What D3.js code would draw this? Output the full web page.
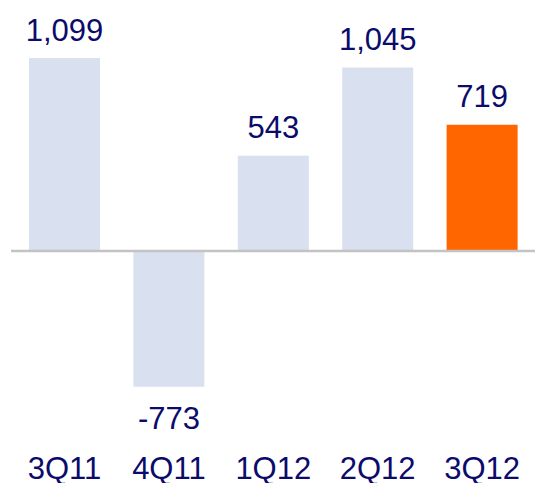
<!DOCTYPE html>
<html>
<head>
<meta charset="utf-8">
<script src="https://cdn.jsdelivr.net/npm/d3@7"></script>
<style>
  body { margin: 0; background: #fff; }
  text { font-family: "Liberation Sans", Arial, sans-serif; fill: #0b0b6b; }
</style>
</head>
<body>
<svg id="chart" width="535" height="483"></svg>
<script>
// quarterly values
var quarters = ["3Q11", "4Q11", "1Q12", "2Q12", "3Q12"];
var values = [1099, -773, 543, 1045, 719];
var highlight = ["3Q12"];

var svg = d3.select("#chart");
var width = 535;

var data = quarters.map(function(q, i) { return { q: q, v: values[i] }; });

var x = d3.scaleBand()
    .domain(quarters)
    .range([12.3, 534.3])
    .paddingInner(0.32)
    .paddingOuter(0.16);

var y = d3.scaleLinear()
    .domain([-1000, 1200])
    .range([426.6, 40.3]);

// plain hyphen for negatives, like the source
var fmt = function(v) { return d3.format(",")(v).replace("\u2212", "-"); };

svg.selectAll("rect.bar")
    .data(data)
  .enter().append("rect")
    .attr("class", "bar")
    .attr("x", function(d) { return x(d.q); })
    .attr("y", function(d) { return d.v >= 0 ? y(d.v) : y(0); })
    .attr("width", x.bandwidth())
    .attr("height", function(d) { return Math.abs(y(d.v) - y(0)); })
    .attr("fill", function(d) { return highlight.indexOf(d.q) >= 0 ? "#ff6600" : "#d9e0ef"; });

// zero line
svg.append("line")
    .attr("x1", 11)
    .attr("x2", width)
    .attr("y1", y(0))
    .attr("y2", y(0))
    .attr("stroke", "#c3c3c3")
    .attr("stroke-width", 2.5);

// value labels
svg.selectAll("text.val")
    .data(data)
  .enter().append("text")
    .attr("class", "val")
    .attr("x", function(d) { return x(d.q) + x.bandwidth() / 2; })
    .attr("y", function(d) { return d.v >= 0 ? y(d.v) - 17.5 : y(d.v) + 42.6; })
    .attr("text-anchor", "middle")
    .style("font-size", "31px")
    .text(function(d) { return fmt(d.v); });

// category labels
svg.selectAll("text.cat")
    .data(quarters)
  .enter().append("text")
    .attr("class", "cat")
    .attr("x", function(d) { return x(d) + x.bandwidth() / 2; })
    .attr("y", 478.5)
    .attr("text-anchor", "middle")
    .style("font-size", "31px")
    .text(function(d) { return d; });
</script>
</body>
</html>
